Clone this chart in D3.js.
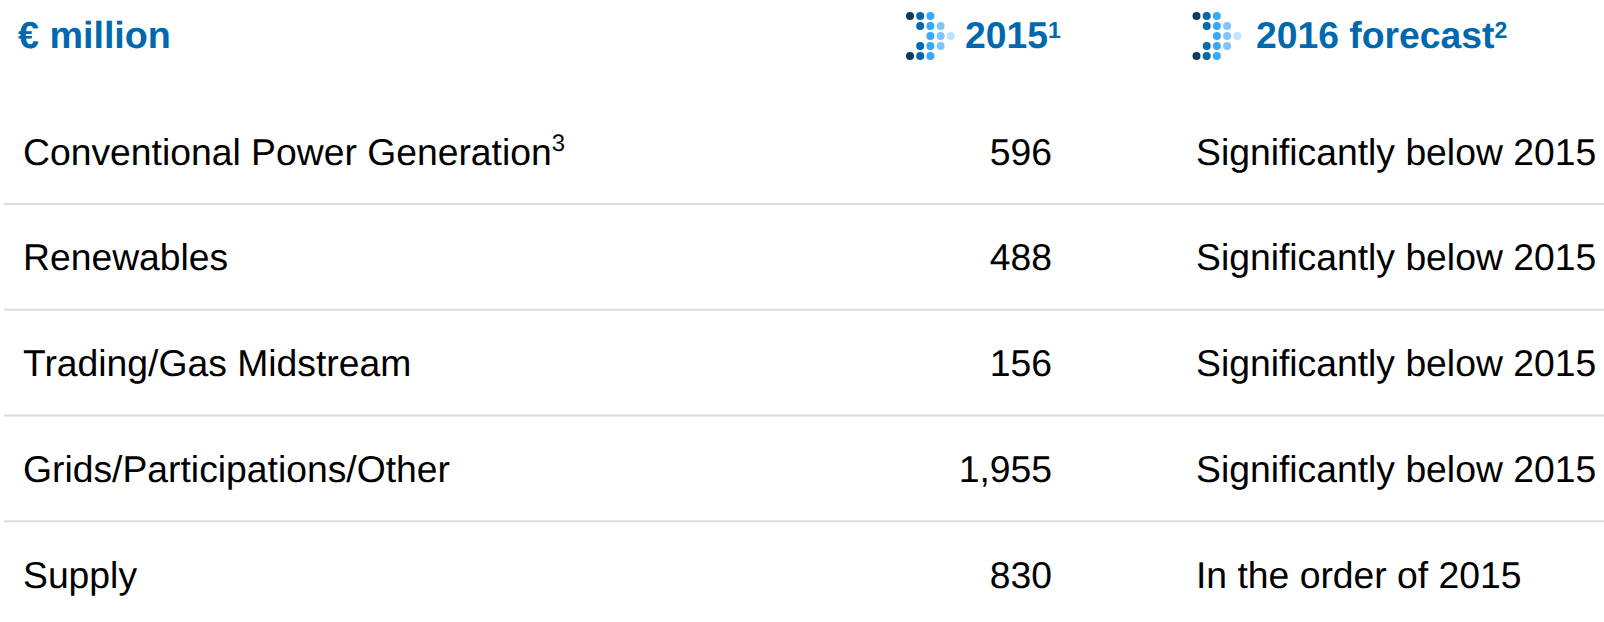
<!DOCTYPE html>
<html>
<head>
<meta charset="utf-8">
<script src="https://cdn.jsdelivr.net/npm/d3@7"></script>
<style>
    html, body { margin: 0; padding: 0; background: #fff; overflow: hidden; }
    text { font-family: "Liberation Sans", Arial, sans-serif; text-rendering: geometricPrecision; }
</style>
</head>
<body>
<div id="chart-container"></div>
<script>
document.addEventListener("DOMContentLoaded", () => {

    const segments = ["Conventional Power Generation", "Renewables", "Trading/Gas Midstream", "Grids/Participations/Other", "Supply"];
    const segmentNotes = ["3", "", "", "", ""];
    const values2015 = [596, 488, 156, 1955, 830];
    const forecast2016 = ["Significantly below 2015", "Significantly below 2015", "Significantly below 2015", "Significantly below 2015", "In the order of 2015"];
    const unitLabel = "€ million";
    const columnLabels = ["2015", "2016 forecast"];
    const columnNotes = ["1", "2"];
    // arrow icon: [row, column] of every dot
    const arrowDots = [[0, 0], [0, 1], [0, 2], [1, 1], [1, 2], [1, 3], [2, 2], [2, 3], [2, 4], [3, 1], [3, 2], [3, 3], [4, 0], [4, 1], [4, 2]];
    const arrowColors = ["#0b3a63", "#0068ad", "#35a9ff", "#80c5ff", "#bfe3ff"];

    const width = 1604;
    const height = 622;
    const blue = "#0068ad";
    const fontSize = 37.3;

    const svg = d3.select("#chart-container")
        .append("svg")
        .attr("width", width)
        .attr("height", height)
        .style("display", "block");

    const y = d3.scalePoint().domain(segments).range([151.5, 574.5]);
    const rowStep = y.step();
    const format = d3.format(",");

    // Separators between rows
    svg.selectAll(".rule")
        .data(segments.slice(0, -1))
        .enter().append("line")
        .attr("class", "rule")
        .attr("x1", 4)
        .attr("x2", width)
        .attr("y1", d => y(d) + rowStep / 2 - 0.4)
        .attr("y2", d => y(d) + rowStep / 2 - 0.4)
        .attr("stroke", "#dcdcdc")
        .attr("stroke-width", 2);

    // Segment names
    const names = svg.selectAll(".name")
        .data(segments)
        .enter().append("text")
        .attr("class", "name")
        .attr("x", 23)
        .attr("y", d => y(d))
        .attr("dy", "0.35em")
        .attr("font-size", fontSize)
        .attr("fill", "#000")
        .text(d => d);

    names.append("tspan")
        .attr("font-size", fontSize * 0.64)
        .attr("dy", "-0.55em")
        .text((d, i) => segmentNotes[i]);

    // 2015 values
    svg.selectAll(".value")
        .data(values2015)
        .enter().append("text")
        .attr("class", "value")
        .attr("x", 1052)
        .attr("y", (d, i) => y(segments[i]))
        .attr("dy", "0.35em")
        .attr("text-anchor", "end")
        .attr("font-size", fontSize)
        .attr("fill", "#000")
        .text(d => format(d));

    // 2016 forecast
    svg.selectAll(".forecast")
        .data(forecast2016)
        .enter().append("text")
        .attr("class", "forecast")
        .attr("x", 1196)
        .attr("y", (d, i) => y(segments[i]))
        .attr("dy", "0.35em")
        .attr("font-size", fontSize)
        .attr("fill", "#000")
        .text(d => d);

    // Header
    svg.append("text")
        .attr("x", 18)
        .attr("y", 48)
        .attr("font-size", fontSize + 0.4)
        .attr("font-weight", "bold")
        .attr("fill", blue)
        .text(unitLabel);

    const headerX = [965, 1256];
    const iconX = [910, 1196.5];

    columnLabels.forEach((label, i) => {
        const head = svg.append("text")
            .attr("x", headerX[i])
            .attr("y", 48)
            .attr("font-size", fontSize)
            .attr("font-weight", "bold")
            .attr("fill", blue)
            .text(label);

        head.append("tspan")
            .attr("font-size", fontSize * 0.62)
            .attr("dy", "-0.42em")
            .text(columnNotes[i]);

        svg.append("g")
            .selectAll("circle")
            .data(arrowDots)
            .enter().append("circle")
            .attr("cx", d => iconX[i] + d[1] * 10.2)
            .attr("cy", d => 16 + d[0] * 10)
            .attr("r", 4)
            .attr("fill", d => arrowColors[d[1]]);
    });
});
</script>
</body>
</html>
